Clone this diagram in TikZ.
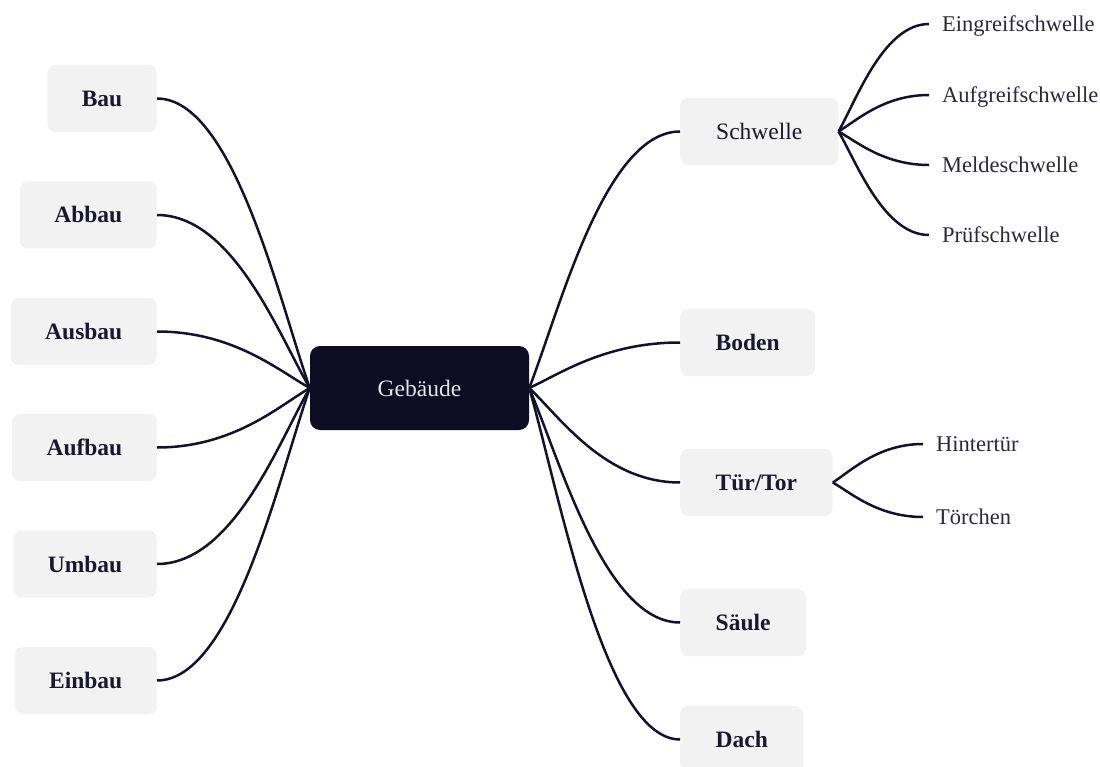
\documentclass[tikz,border=0pt]{standalone}
\usepackage{fontspec}
\setmainfont{Liberation Serif}
\usetikzlibrary{calc}

\definecolor{ink}{HTML}{14122B}
\definecolor{hub}{HTML}{0E0C22}
\definecolor{hubtext}{HTML}{E4E4E8}
\definecolor{tile}{HTML}{F2F2F3}
\definecolor{tiletext}{HTML}{1A182E}
\definecolor{leaftext}{HTML}{2A2939}

\begin{document}
\begin{tikzpicture}[x=1pt,y=-1pt,
  tilebox/.style={fill=tile, text=tiletext, rounded corners=8pt,
    minimum height=67pt, inner xsep=34.5pt, inner ysep=0pt,
    text height=20pt, text depth=4pt},
  lefttile/.style={tilebox, anchor=east, font=\fontsize{23.5}{28}\selectfont\bfseries},
  righttile/.style={tilebox, anchor=west, inner xsep=35.5pt, font=\fontsize{23.5}{28}\selectfont\bfseries},
  righttileplain/.style={tilebox, anchor=west, inner xsep=36pt, font=\fontsize{23.5}{28}\selectfont},
  hubbox/.style={fill=hub, text=hubtext, rounded corners=10pt,
    minimum width=219pt, minimum height=84pt, inner sep=0pt,
    text height=20pt, text depth=4pt, font=\fontsize{23.5}{28}\selectfont},
  leaf/.style={anchor=west, text=leaftext, inner ysep=0pt,
    text height=19pt, text depth=3.8pt, font=\fontsize{22.5}{27}\selectfont},
  branch/.style={draw=ink, line width=2.5pt,
    to path={let \p1=(\tikztostart), \p2=(\tikztotarget) in
      .. controls ({0.8*\x1+0.2*\x2},{0.7*\y1+0.3*\y2})
             and ({0.5*\x1+0.5*\x2},\y2) .. (\tikztotarget) \tikztonodes}}
]
\useasboundingbox (0,0) rectangle (1100,767);

% central topic
\node[hubbox] (root) at (419.5,388) {Gebäude};

% left branches
\node[lefttile] (bau)    at (157,98.5)  {Bau};
\node[lefttile] (abbau)  at (157,215)   {Abbau};
\node[lefttile] (ausbau) at (157,331.5) {Ausbau};
\node[lefttile] (aufbau) at (157,447.5) {Aufbau};
\node[lefttile] (umbau)  at (157,564)   {Umbau};
\node[lefttile] (einbau) at (157,680.5) {Einbau};

% right branches
\node[righttileplain] (schwelle) at (680,131.5) {Schwelle};
\node[righttile] (boden)  at (680,342.5) {Boden};
\node[righttile] (tuer)   at (680,482.5) {Tür/Tor};
\node[righttile] (saeule) at (680,622.5) {Säule};
\node[righttile] (dach)   at (680,739.5) {Dach};

% leaves of Schwelle
\node[leaf, inner xsep=13pt] (eingreif) at (929,24)  {Eingreifschwelle};
\node[leaf, inner xsep=13pt] (aufgreif) at (929,95)  {Aufgreifschwelle};
\node[leaf, inner xsep=13pt] (melde)    at (929,165) {Meldeschwelle};
\node[leaf, inner xsep=13pt] (pruef)    at (929,235) {Prüfschwelle};

% leaves of Tür/Tor
\node[leaf, inner xsep=13pt] (hinter)   at (923,444) {Hintertür};
\node[leaf, inner xsep=13pt] (toerchen) at (923,517) {Törchen};

% connectors
\foreach \c in {bau,abbau,ausbau,aufbau,umbau,einbau}
  \draw[branch] (root.west) to (\c.east);
\foreach \c in {schwelle,boden,tuer,saeule,dach}
  \draw[branch] (root.east) to (\c.west);
\foreach \c in {eingreif,aufgreif,melde,pruef}
  \draw[branch] (schwelle.east) to (\c.west);
\foreach \c in {hinter,toerchen}
  \draw[branch] (tuer.east) to (\c.west);
\end{tikzpicture}
\end{document}
